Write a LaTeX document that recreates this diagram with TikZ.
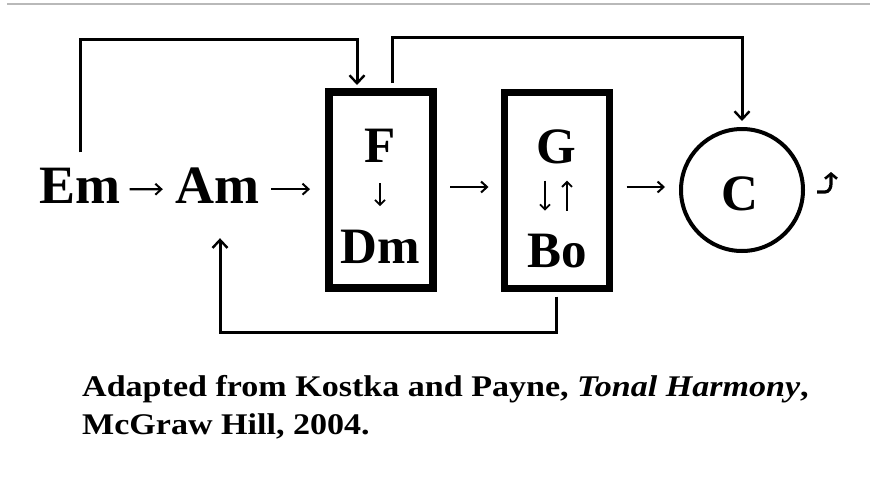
\documentclass[tikz,border=0pt]{standalone}
\usepackage{fontspec}
\setmainfont{Liberation Serif}
\newfontfamily\capfont[FakeStretch=1.135]{Liberation Serif}
\usetikzlibrary{arrows.meta}
\begin{document}
\begin{tikzpicture}[x=1pt,y=-1pt,
  chord/.style={inner sep=0pt,anchor=base,font=\fontsize{54}{54}\selectfont\bfseries},
  boxchord/.style={inner sep=0pt,anchor=base,font=\fontsize{51}{51}\selectfont\bfseries},
  chordbox/.style={draw,rectangle,minimum width=104pt,minimum height=196pt,inner sep=0pt},
  conn/.style={line width=3pt,-{Straight Barb[length=8pt,width=15pt,line width=2.4pt]}},
  inarrow/.style={line width=2.2pt,-{Straight Barb[length=6pt,width=11pt,line width=2pt]}},
  small/.style={line width=2pt,-{Straight Barb[length=5pt,width=10pt,line width=1.8pt]}},
  srcline/.style={anchor=base west,inner sep=0pt,font=\capfont\fontsize{30}{38}\selectfont\bfseries}]
\useasboundingbox (0,0) rectangle (870,477);
% rule across the top
\draw[gray!55,line width=1.6pt] (7,4) -- (870,4);

% chords
\node[chord] (em) at (80,203) {Em};
\node[chord] (am) at (217,203) {Am};
\node[chordbox,line width=8pt] (box1) at (381,190) {};
\node[chordbox,line width=7pt,minimum width=105pt] (box2) at (556.5,190) {};
\node[draw,circle,line width=4pt,minimum size=122pt,inner sep=0pt] (c) at (742,190) {};

\node[boxchord] (f) at (380,162) {F};
\node[boxchord] (dm) at (380,263) {Dm};
\node[boxchord] (g) at (556,163) {G};
\node[boxchord] (bo) at (557,267) {Bo};
\node[boxchord] (cl) at (740,210) {C};

% arrows inside the boxes
\draw[small] ([yshift=-21pt]f.south) -- ([yshift=-44pt]f.south);
\draw[small] ([xshift=-11pt,yshift=-17pt]g.south) -- ([xshift=-11pt,yshift=-47pt]g.south);
\draw[small] ([xshift=11pt,yshift=-47pt]g.south) -- ([xshift=11pt,yshift=-17pt]g.south);

% progression arrows
\draw[inarrow,shorten <=9pt,shorten >=12pt] ([yshift=-4pt]em.east) -- ([yshift=-4pt]am.west);
\draw[inarrow,shorten <=12pt,shorten >=15pt] ([yshift=-4pt]am.east) -- ([yshift=-4pt]am.east -| box1.west);
\draw[inarrow,shorten <=13pt,shorten >=12pt] ([yshift=3pt]box1.east) -- ([yshift=3pt]box2.west);
\draw[inarrow,shorten <=14pt,shorten >=14pt] ([yshift=3pt]box2.east) -- ([yshift=3pt]c.west);

% feedback paths
\draw[conn] ([yshift=15pt]em.north) -- ++(0,-113) -| ([xshift=-24pt,yshift=3pt]box1.north);
\draw[conn] ([xshift=11pt,yshift=5pt]box1.north) -- ++(0,-46) -| ([yshift=6pt]c.north);
\draw[conn] ([yshift=-5pt]box2.south) -- ++(0,36) -| ([xshift=3pt,yshift=-35pt]am.south);

% small rising arrow after C
\draw[line width=3.2pt,-{Straight Barb[length=5pt,width=12pt,line width=2.6pt]}]
  ([xshift=12pt,yshift=-2pt]c.east) -- ++(8,0) to[out=0,in=-90] ++(6,-8) -- ++(0,-12);

% source
\node[srcline] (src1) at (82,396) {Adapted from Kostka and Payne, \textit{Tonal Harmony},};
\node[srcline] (src2) at (82,434) {McGraw Hill, 2004.};
\end{tikzpicture}
\end{document}
